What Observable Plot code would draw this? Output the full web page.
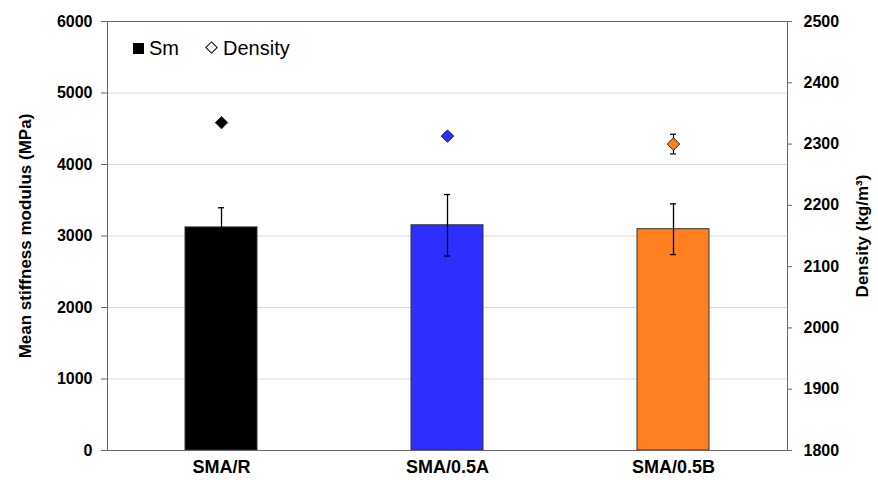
<!DOCTYPE html>
<html>
<head>
<meta charset="utf-8">
<script src="https://cdn.jsdelivr.net/npm/d3@7"></script>
<script src="https://cdn.jsdelivr.net/npm/@observablehq/plot@0.6"></script>
<style>
  html, body { margin: 0; padding: 0; background: #fff; }
  #wrap { position: relative; width: 878px; height: 480px; font-family: "Liberation Sans", Arial, sans-serif; }
  #legend { position: absolute; left: 133px; top: 37px; font-size: 20px; color: #000; white-space: nowrap; }
  #legend .sq { display: inline-block; width: 11px; height: 11px; background: #000; margin-right: 5px; vertical-align: 1px; }
  #legend .dm { display: inline-block; width: 7px; height: 7px; border: 1.3px solid #000; transform: rotate(45deg); margin: 0 7px 0 28px; vertical-align: 3px; }
</style>
</head>
<body>
<div id="wrap">
  <div id="legend"><span class="sq"></span>Sm<span class="dm"></span>Density</div>
</div>
<script>
const categories = ["SMA/R", "SMA/0.5A", "SMA/0.5B"];
const stiffness = [3120, 3150, 3095];
const stiffnessErr = [275, 430, 355];
const density = [2335, 2313, 2300];
const densityErr = [2, 5, 16];
const barColors = ["#000000", "#2e2eff", "#ff8020"];
const stiffTicks = [0, 1000, 2000, 3000, 4000, 5000, 6000];
const densTicks = [1800, 1900, 2000, 2100, 2200, 2300, 2400, 2500];
const leftTitle = "Mean stiffness modulus (MPa)";
const rightTitle = "Density (kg/m³)";

const dMin = 1800, dMax = 2500, sMax = 6000;
const toY = d => (d - dMin) / (dMax - dMin) * sMax;
const fromY = v => Math.round(v / sMax * (dMax - dMin) + dMin);

const data = categories.map((c, i) => ({
  cat: c, sm: stiffness[i], smErr: stiffnessErr[i],
  dens: density[i], densErr: densityErr[i]
}));

const font = "'Liberation Sans', Arial, sans-serif";
const errColor = "#000";

const chart = Plot.plot({
  width: 878, height: 480,
  marginLeft: 107, marginRight: 91, marginTop: 21, marginBottom: 30,
  style: { fontFamily: font, fontSize: "16px", fontWeight: "bold", color: "#000", background: "transparent" },
  x: { domain: categories, paddingInner: 0.68, paddingOuter: 0.34, label: null },
  y: { domain: [0, sMax], label: null },
  color: { domain: categories, range: barColors },
  marks: [
    Plot.ruleY(stiffTicks.slice(1, -1), { stroke: "#dcdcdc", strokeWidth: 1 }),
    Plot.barY(data, { x: "cat", y: "sm", fill: "cat", stroke: "#333", strokeWidth: 1 }),
    Plot.ruleX(data, { x: "cat", y1: d => d.sm - d.smErr, y2: d => d.sm + d.smErr, stroke: errColor, strokeWidth: 1.3 }),
    Plot.tickY(data, { x: "cat", y: d => d.sm + d.smErr, insetLeft: 33, insetRight: 33, stroke: errColor, strokeWidth: 1.3 }),
    Plot.tickY(data, { x: "cat", y: d => d.sm - d.smErr, insetLeft: 33, insetRight: 33, stroke: errColor, strokeWidth: 1.3 }),
    Plot.ruleX(data, { x: "cat", y1: d => toY(d.dens - d.densErr), y2: d => toY(d.dens + d.densErr), stroke: errColor, strokeWidth: 1.2 }),
    Plot.tickY(data, { x: "cat", y: d => toY(d.dens + d.densErr), insetLeft: 33, insetRight: 33, stroke: errColor, strokeWidth: 1.2 }),
    Plot.tickY(data, { x: "cat", y: d => toY(d.dens - d.densErr), insetLeft: 33, insetRight: 33, stroke: errColor, strokeWidth: 1.2 }),
    Plot.dot(data, { x: "cat", y: d => toY(d.dens), symbol: "diamond2", r: 5.6, fill: "cat", stroke: "#222", strokeWidth: 1 }),
    Plot.frame({ stroke: "#666", strokeWidth: 1 }),
    Plot.axisY({ anchor: "left", ticks: stiffTicks, tickFormat: d => String(d), tickSize: 6, tickPadding: 9, label: null, stroke: "#666", fontSize: 16 }),
    Plot.axisY({ anchor: "right", ticks: densTicks.map(toY), tickFormat: v => String(fromY(v)), tickSize: 4, tickPadding: 12, label: null, stroke: "#666", fontSize: 16 }),
    Plot.axisX({ tickSize: 0, tickPadding: 10, label: null, fontSize: 18 }),
    Plot.text([leftTitle], { frameAnchor: "left", dx: -82, rotate: -90, textAnchor: "middle", fontSize: 17, fontWeight: "bold", fill: "#000" }),
    Plot.text([rightTitle], { frameAnchor: "right", dx: 75, rotate: -90, textAnchor: "middle", fontSize: 17, fontWeight: "bold", fill: "#000" })
  ]
});

document.getElementById("wrap").prepend(chart);
chart.style.position = "absolute";
chart.style.left = "0";
chart.style.top = "0";
</script>
</body>
</html>
